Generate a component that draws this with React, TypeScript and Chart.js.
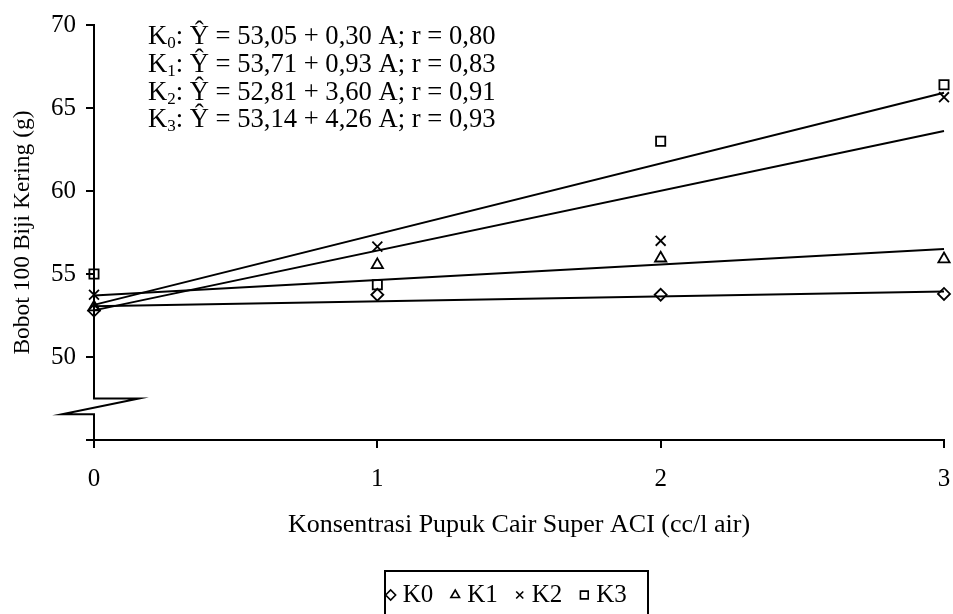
import React, { useEffect, useRef } from 'react';
import { Chart, registerables } from 'chart.js';
import { drawPoint } from 'chart.js/helpers';

Chart.register(...registerables);

// Doses of the liquid fertiliser (cc per litre of water)
const doses = [0, 1, 2, 3];

// Observed 100-seed dry weight (g) per treatment
const seriesNames = ['K0', 'K1', 'K2', 'K3'];
const k0Weights = [52.8, 53.75, 53.75, 53.8];
const k1Weights = [53.0, 55.55, 55.95, 55.9];
const k2Weights = [53.75, 56.65, 57.0, 65.65];
const k3Weights = [55.0, 54.35, 63.0, 66.4];

// Fitted regression lines: Ŷ = a + b·A, with correlation r
const intercepts = [53.05, 53.71, 52.81, 53.14];
const slopes = [0.3, 0.93, 3.6, 4.26];
const rValues = [0.8, 0.83, 0.91, 0.93];

// Y axis range and the cut shown on the axis
const yMin = 45;
const yMax = 70;
const yStep = 5;
const breakHigh = 47.5;
const breakLow = 46.55;

const markerStyles = ['rectRot', 'triangle', 'crossRot', 'rect'];
const markerRadii = [6, 6.5, 7, 6.5];
const legendRadii = [5, 5, 5, 5.5];

const FAMILY = "'Liberation Serif', 'Times New Roman', serif";
const INK = '#000';

const comma = (v: number) => v.toFixed(2).replace('.', ',');

const weightsBySeries = [k0Weights, k1Weights, k2Weights, k3Weights];

const axisBreakPlugin = {
  id: 'axisBreak',
  beforeDatasetsDraw(chart: any) {
    const { ctx, scales } = chart;
    const xs = scales.x;
    const ys = scales.y;
    const x0 = Math.round(xs.getPixelForValue(doses[0]));
    const yTop = ys.getPixelForValue(yMax);
    const yHi = ys.getPixelForValue(breakHigh);
    const yLo = ys.getPixelForValue(breakLow);
    const yBottom = ys.getPixelForValue(yMin);
    ctx.save();
    ctx.strokeStyle = INK;
    ctx.lineWidth = 2;
    ctx.lineJoin = 'miter';
    ctx.beginPath();
    ctx.moveTo(x0, yTop - 1);
    ctx.lineTo(x0, yHi);
    ctx.lineTo(x0 + 45, yHi);
    ctx.lineTo(x0 - 32, yLo);
    ctx.lineTo(x0, yLo);
    ctx.lineTo(x0, yBottom);
    ctx.stroke();
    ctx.restore();
  },
};

const equationsPlugin = {
  id: 'equations',
  afterDraw(chart: any) {
    const { ctx } = chart;
    ctx.save();
    ctx.fillStyle = INK;
    ctx.textBaseline = 'alphabetic';
    ctx.textAlign = 'left';
    const left = 148;
    const firstBaseline = 44;
    const lineGap = 27.8;
    seriesNames.forEach((name, i) => {
      const base = firstBaseline + i * lineGap;
      let x = left;
      ctx.font = `26.6px ${FAMILY}`;
      ctx.fillText(name[0], x, base);
      x += ctx.measureText(name[0]).width;
      ctx.font = `17px ${FAMILY}`;
      ctx.fillText(name.slice(1), x, base + 4);
      x += ctx.measureText(name.slice(1)).width;
      ctx.font = `26.6px ${FAMILY}`;
      const rest = `: \u0176 = ${comma(intercepts[i])} + ${comma(slopes[i])} A; r = ${comma(rValues[i])}`;
      ctx.fillText(rest, x, base);
    });
    ctx.restore();
  },
};

const boxedLegendPlugin = {
  id: 'boxedLegend',
  afterDraw(chart: any) {
    const { ctx } = chart;
    const boxLeft = 385;
    const boxRight = 648;
    const boxTop = 571;
    const boxBottom = 618;
    const midY = 595;
    ctx.save();
    ctx.strokeStyle = INK;
    ctx.lineWidth = 2;
    ctx.strokeRect(boxLeft, boxTop, boxRight - boxLeft, boxBottom - boxTop);

    ctx.font = `25px ${FAMILY}`;
    const markerToText = 12;
    const textToMarker = 22;
    const widths = seriesNames.map((n) => ctx.measureText(n).width);
    let total = 0;
    seriesNames.forEach((_, i) => {
      total += legendRadii[i] + markerToText + widths[i];
      if (i < seriesNames.length - 1) total += textToMarker;
    });
    total += legendRadii[0];
    let x = (boxLeft + boxRight) / 2 - total / 2 + legendRadii[0];
    seriesNames.forEach((name, i) => {
      ctx.strokeStyle = INK;
      ctx.fillStyle = 'rgba(0,0,0,0)';
      ctx.lineWidth = 1.6;
      drawPoint(ctx, { pointStyle: markerStyles[i], radius: legendRadii[i], rotation: 0, borderWidth: 1.6 } as any, x, midY);
      ctx.fillStyle = INK;
      ctx.textBaseline = 'middle';
      ctx.textAlign = 'left';
      ctx.fillText(name, x + markerToText, midY);
      x += markerToText + widths[i] + textToMarker;
    });
    ctx.restore();
  },
};

export default function App() {
  const canvasRef = useRef<HTMLCanvasElement>(null);

  useEffect(() => {
    const canvas = canvasRef.current;
    if (!canvas) return;

    const tickFont = { family: FAMILY, size: 25 };

    const pointSets = weightsBySeries.map((vals, i) => ({
      label: seriesNames[i],
      data: doses.map((d, j) => ({ x: d, y: vals[j] })),
      pointStyle: markerStyles[i],
      pointRadius: markerRadii[i],
      pointHoverRadius: markerRadii[i],
      pointBorderColor: INK,
      pointBackgroundColor: 'rgba(0,0,0,0)',
      pointBorderWidth: 1.8,
      showLine: false,
      clip: false as any,
      order: 0,
    }));

    const fitSets = intercepts.map((a, i) => {
      const ends = [doses[0], doses[doses.length - 1]];
      return {
        label: `${seriesNames[i]} fit`,
        data: ends.map((x) => ({ x, y: a + slopes[i] * x })),
        borderColor: INK,
        borderWidth: 2,
        pointRadius: 0,
        pointHoverRadius: 0,
        showLine: true,
        fill: false,
        tension: 0,
        clip: false as any,
        order: 1,
      };
    });

    const chart = new Chart(canvas, {
      type: 'scatter',
      data: { datasets: [...fitSets, ...pointSets] as any },
      options: {
        animation: false,
        responsive: false,
        devicePixelRatio: 1,
        layout: { padding: { left: 0, right: 9, top: 20, bottom: 0 } },
        plugins: {
          legend: { display: false },
          tooltip: { enabled: false },
        },
        scales: {
          x: {
            type: 'linear',
            min: doses[0],
            max: doses[doses.length - 1],
            ticks: { stepSize: 1, color: INK, font: tickFont, padding: 16 },
            grid: { drawOnChartArea: false, drawTicks: true, tickLength: 8, color: INK, lineWidth: 2 },
            border: { display: true, color: INK, width: 2 },
            title: {
              display: true,
              text: 'Konsentrasi Pupuk Cair Super ACI (cc/l air)',
              color: INK,
              font: { family: FAMILY, size: 26 },
              padding: { top: 0, bottom: 73 },
            },
            afterFit: (s: any) => {
              s.height = 174;
              s.paddingLeft = 0;
              s.paddingRight = 0;
            },
          },
          y: {
            type: 'linear',
            min: yMin,
            max: yMax,
            ticks: {
              stepSize: yStep,
              color: INK,
              font: tickFont,
              padding: 10,
              callback: (v: any) => (Number(v) === yMin ? '' : String(v)),
            },
            grid: { drawOnChartArea: false, drawTicks: true, tickLength: 8, color: INK, lineWidth: 2 },
            border: { display: false },
            title: {
              display: true,
              text: 'Bobot 100 Biji Kering (g)',
              color: INK,
              font: { family: FAMILY, size: 23.5 },
              padding: { top: 9, bottom: 0 },
            },
            afterFit: (s: any) => {
              s.width = 94;
            },
          },
        },
      },
      plugins: [axisBreakPlugin, equationsPlugin, boxedLegendPlugin],
    });

    return () => chart.destroy();
  }, []);

  return (
    <div style={{ position: 'fixed', left: 0, top: 0, width: 953, height: 614, background: '#fff' }}>
      <canvas ref={canvasRef} width={953} height={614} style={{ display: 'block' }} />
    </div>
  );
}
